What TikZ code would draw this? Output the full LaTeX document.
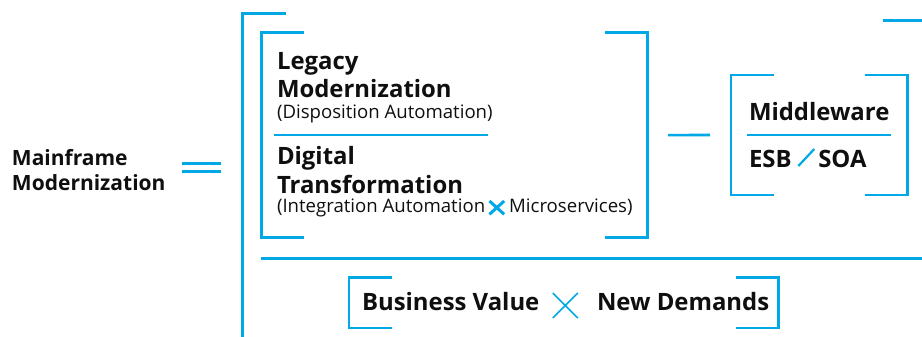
\documentclass[tikz,border=0pt]{standalone}
\usepackage{fontspec}
\setmainfont{Open Sans}
\usetikzlibrary{calc}
\definecolor{brand}{RGB}{0,169,230}
\definecolor{ink}{RGB}{15,15,15}
% corner brackets on both sides of a rectangular node: #1 node, #2 arm length
\newcommand\bracketpair[2]{%
  \draw[rule] ([xshift=#2]#1.north west) -| (#1.south west) -- ++(#2,0);
  \draw[rule] ([xshift=-#2]#1.north east) -| (#1.south east) -- ++(-#2,0);}
\begin{document}
\begin{tikzpicture}[x=1pt,y=-1pt,
  rule/.style={draw=brand,line width=2.6pt},
  area/.style={inner sep=0pt,outer sep=0pt,anchor=north west},
  head/.style={anchor=base west,inner sep=0pt,outer sep=0pt,text=ink,
    font=\fontsize{23.9}{28}\selectfont\bfseries},
  lead/.style={anchor=base west,inner sep=0pt,outer sep=0pt,text=ink,
    font=\fontsize{21}{25}\selectfont\bfseries},
  subtext/.style={anchor=base west,inner sep=0pt,outer sep=0pt,text=ink,
    font=\fontsize{18.6}{22}\selectfont},
  glyph/.style={inner sep=0pt,outer sep=0pt,anchor=south west}]
\useasboundingbox (0,0) rectangle (922,337);
\clip (0,0) rectangle (922,337);

% left label and equals sign
\node[lead] (mf1) at (12,165) {Mainframe};
\node[lead] (mf2) at (12,190) {Modernization};
\coordinate (eqL) at (182,167.5);
\coordinate (eqR) at (221,167.5);
\draw[rule] ([yshift=4.2pt]eqL) -- ([yshift=4.2pt]eqR);
\draw[rule] ([yshift=-4.2pt]eqL) -- ([yshift=-4.2pt]eqR);

% outer bracket
\draw[rule] (242.7,345) |- (285.7,13.3);
\draw[rule] (882.7,20.7) -- (930,20.7);

% modernization block
\node[area,minimum width=386,minimum height=205.2] (core) at (261.7,32.5) {};
\bracketpair{core}{42.5}
\node[head] (leg1) at (277,69.5) {Legacy};
\node[head] (leg2) at (277,98) {Modernization};
\node[subtext] (legsub) at (277,118) {(Disposition Automation)};
\draw[rule] ($(core.west)+(12.3,0)$) -- ++(213.7,0);
\node[head] (dig1) at (277,164.3) {Digital};
\node[head] (dig2) at (277,193.3) {Transformation};
\node[subtext] (digA) at (277,212.5) {(Integration Automation};
\node[glyph,minimum width=14.7,minimum height=13.3] (xa)
  at ([xshift=4.3pt,yshift=-1.8pt]digA.base east) {};
\draw[rule,line width=3pt] (xa.north west) -- (xa.south east)
  (xa.south west) -- (xa.north east);
\node[subtext] (digB) at ([xshift=5pt,yshift=1.8pt]xa.south east) {Microservices)};

% middleware block
\node[area,minimum width=176.3,minimum height=120] (mw) at (731,75) {};
\bracketpair{mw}{42.5}
\draw[rule] ([xshift=20.3pt]core.east) -- ([xshift=-21pt]mw.west);
\node[head] (mid) at (749,121) {Middleware};
\draw[rule] ($(mw.west)+(16,0)$) -- ($(mw.east)+(-16.6,0)$);
\node[head] (esb) at (749,167) {ESB};
\node[glyph,minimum width=16,minimum height=17] (sl)
  at ([xshift=6.7pt,yshift=1pt]esb.base east) {};
\draw[rule,line width=2.2pt] (sl.south west) -- (sl.north east);
\node[head] (soa) at ([xshift=4pt,yshift=-1pt]sl.south east) {SOA};

% divider and value block
\draw[rule] (260.7,258.5) -- (930,258.5);
\node[area,minimum width=429.3,minimum height=50.7] (bv) at (349,277.3) {};
\bracketpair{bv}{42.5}
\node[head] (bus) at (362,310.7) {Business Value};
\node[glyph,minimum width=25,minimum height=25] (xb)
  at ([xshift=13.4pt,yshift=-7.3pt]bus.base east) {};
\draw[rule,line width=1.7pt] (xb.north west) -- (xb.south east)
  (xb.south west) -- (xb.north east);
\node[head] (nd) at ([xshift=19.3pt,yshift=7.3pt]xb.south east) {New Demands};
\end{tikzpicture}
\end{document}
